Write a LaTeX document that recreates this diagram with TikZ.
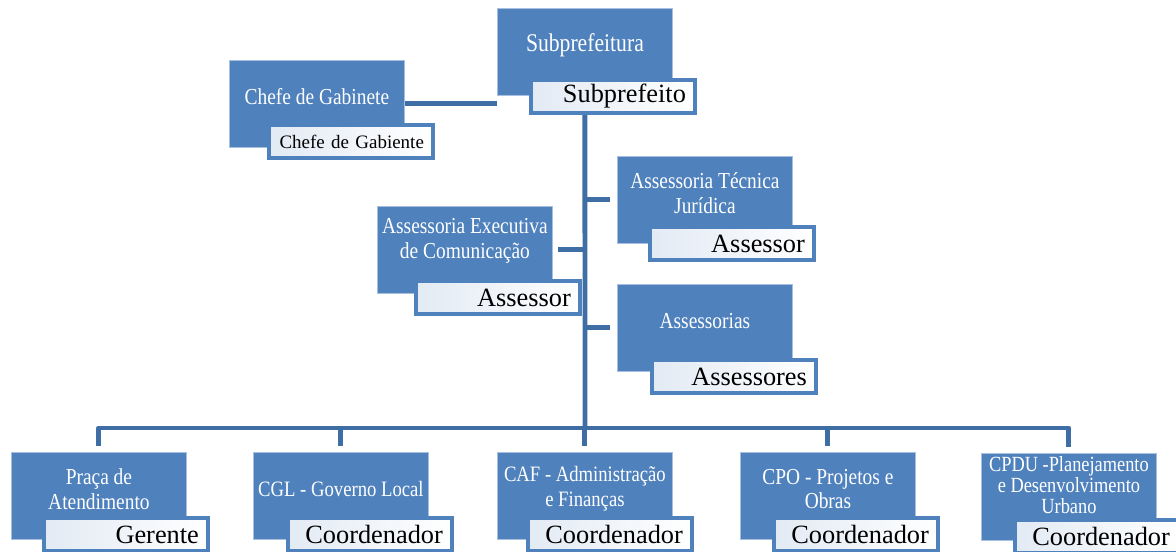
\documentclass[tikz,border=0pt]{standalone}
\usepackage{fontspec}
\setmainfont{Liberation Serif}
\newfontfamily\narrowserif[FakeStretch=0.85]{Liberation Serif}
\usepackage{xcolor}
\usetikzlibrary{positioning}
\definecolor{unitblue}{HTML}{4F81BD}
\definecolor{linkblue}{HTML}{3F6EA5}
\definecolor{unitedge}{HTML}{A8C0DF}
\definecolor{rolefill}{HTML}{E2EAF4}

\begin{document}
\begin{tikzpicture}[x=0.02cm,y=-0.02cm,
	unit/.style={anchor=north west,rectangle,fill=unitblue,draw=unitedge,line width=0.5pt,minimum width=3.5cm,minimum height=1.74cm,inner sep=0pt},
	title/.style={text=white,align=center,inner sep=0pt,font=\narrowserif\fontsize{13}{14}\selectfont},
	role/.style={anchor=north west,rectangle,draw=unitblue,line width=2.3pt,left color=rolefill,right color=white,minimum width=3.28cm,minimum height=0.66cm,text width=83pt,inner xsep=5pt,inner ysep=0pt,align=right,font=\fontsize{15}{15}\selectfont},
	link/.style={draw=linkblue,line width=2.8pt,line join=round}]
	\useasboundingbox (0,0) rectangle (1176,551);

	% top
	\node[unit] (sub) at (497,8) {};
	\node[title,font=\narrowserif\fontsize{14.5}{15}\selectfont] (subt) at ([yshift=4pt]sub.center) {Subprefeitura};
	\node[role] (subr) at (529,78) {Subprefeito};

	\node[unit] (chefe) at (229,60) {};
	\node[title] (chefet) at ([yshift=4pt]chefe.center) {Chefe de Gabinete};
	\node[role,font=\fontsize{10.8}{11}\selectfont] (chefer) at (267,123) {Chefe de Gabiente};

	% assessorias
	\node[unit] (tec) at (617,156) {};
	\node[title] (tect) at ([yshift=4pt]tec.center) {Assessoria Técnica\\Jurídica};
	\node[role] (tecr) at (648,225) {Assessor};

	\node[unit] (exe) at (377,206) {};
	\node[title] (exet) at ([yshift=5pt]exe.center) {Assessoria Executiva\\de Comunicação};
	\node[role] (exer) at (414,279) {Assessor};

	\node[unit] (ass) at (617,284) {};
	\node[title] (asst) at ([yshift=4pt]ass.center) {Assessorias};
	\node[role] (assr) at (650,358) {Assessores};

	% coordenadorias
	\node[unit] (praca) at (11,452) {};
	\node[title] (pracat) at ([yshift=4pt]praca.center) {Praça de\\Atendimento};
	\node[role] (pracar) at (42,516) {Gerente};

	\node[unit] (cgl) at (253,452) {};
	\node[title,font=\narrowserif\fontsize{12.5}{14}\selectfont] (cglt) at ([yshift=4pt]cgl.center) {CGL - Governo Local};
	\node[role] (cglr) at (286,516) {Coordenador};

	\node[unit] (caf) at (497,452) {};
	\node[title,font=\narrowserif\fontsize{12.5}{14}\selectfont] (caft) at ([yshift=4pt]caf.center) {CAF - Administração\\e Finanças};
	\node[role] (cafr) at (526,516) {Coordenador};

	\node[unit] (cpo) at (740,452) {};
	\node[title] (cpot) at ([yshift=4pt]cpo.center) {CPO - Projetos e\\Obras};
	\node[role] (cpor) at (772,516) {Coordenador};

	\node[unit] (cpdu) at (981,453) {};
	\node[title,font=\narrowserif\fontsize{12.3}{12}\selectfont] (cpdut) at ([yshift=6.5pt]cpdu.center) {CPDU -Planejamento\\e Desenvolvimento\\Urbano};
	\node[role] (cpdur) at (1013,518) {Coordenador};

	\coordinate (bus) at (585,428);

	\draw[link] (chefe.east) -- (chefe.east -| sub.west);
	\draw[link] (subr.south -| sub.south) -- (bus);
	\draw[link,shorten >=4pt] (sub.center |- tec.west) -- (tec.west);
	\draw[link,shorten >=3pt] (sub.center |- exe.east) -- (exe.east);
	\draw[link,shorten >=4pt] (sub.center |- ass.west) -- (ass.west);
	\draw[link,shorten <=3.5pt,shorten >=3.5pt] (praca.north) |- (bus) -| (cpdu.north);
	\foreach \u in {cgl,caf,cpo}
		\draw[link,shorten <=3.5pt] (\u.north) -- (\u.north |- bus);
\end{tikzpicture}
\end{document}
